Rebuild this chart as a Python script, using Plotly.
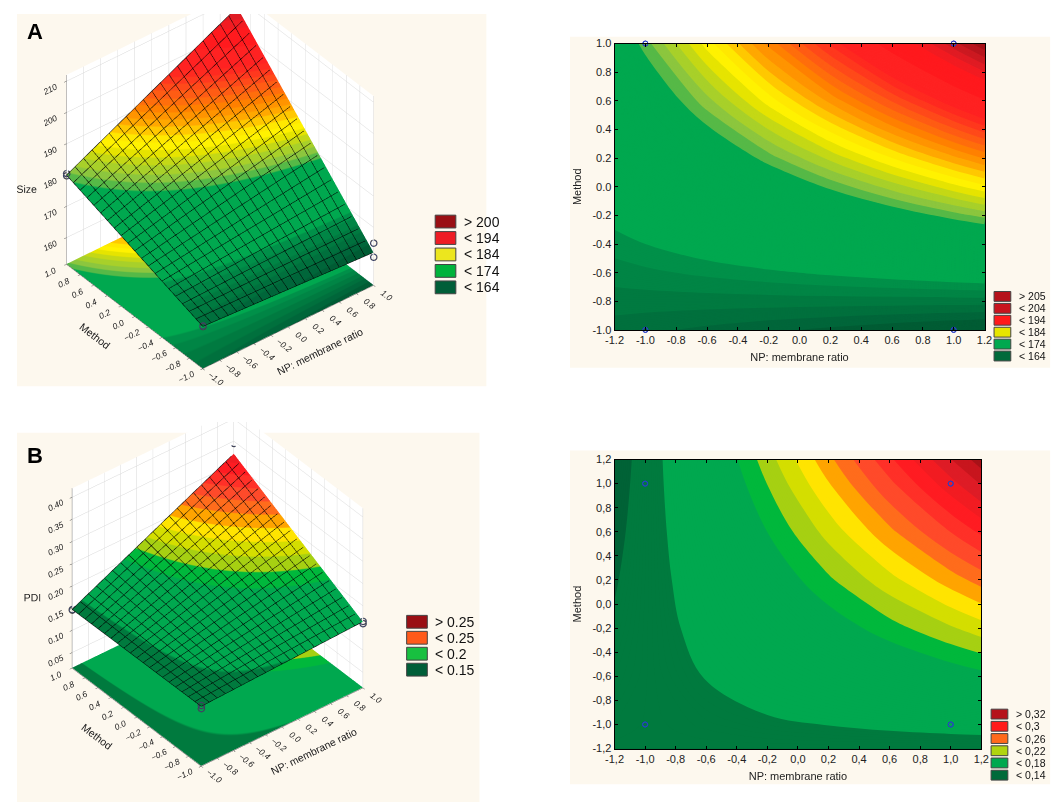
import plotly.graph_objects as go

FONT = "Liberation Sans, Arial, sans-serif"
W, H = 1059, 804

# fitted response grids
np_ratio = [-1.2, -1.0, -0.6, -0.2, 0.2, 0.6, 1.0, 1.2]
method_a = [-1.0, -0.6, -0.2, 0.2, 0.6, 1.0]
size_nm = [
    [165.3, 165.0, 164.4, 163.8, 163.2, 162.6, 162.0, 161.7],
    [167.7, 168.0, 168.6, 169.2, 169.8, 170.4, 171.0, 171.3],
    [170.1, 171.0, 172.8, 174.6, 176.4, 178.2, 180.0, 180.9],
    [172.5, 174.0, 177.0, 180.0, 183.0, 186.0, 189.0, 190.5],
    [174.9, 177.0, 181.2, 185.4, 189.6, 193.8, 198.0, 200.1],
    [177.3, 180.0, 185.4, 190.8, 196.2, 201.6, 207.0, 209.7],
]
method_b = [-1.2, -1.0, -0.6, -0.2, 0.2, 0.6, 1.0, 1.2]
pdi = [
    [0.1502, 0.1500, 0.1497, 0.1494, 0.1491, 0.1487, 0.1484, 0.1483],
    [0.1484, 0.1498, 0.1526, 0.1556, 0.1584, 0.1613, 0.1642, 0.1656],
    [0.1446, 0.1493, 0.1586, 0.1679, 0.1771, 0.1864, 0.1957, 0.2004],
    [0.1410, 0.1489, 0.1645, 0.1802, 0.1959, 0.2116, 0.2272, 0.2351],
    [0.1373, 0.1484, 0.1704, 0.1925, 0.2146, 0.2366, 0.2587, 0.2698],
    [0.1336, 0.1479, 0.1764, 0.2049, 0.2333, 0.2618, 0.2903, 0.3045],
    [0.1299, 0.1474, 0.1823, 0.2171, 0.2520, 0.2869, 0.3218, 0.3392],
    [0.1281, 0.1471, 0.1852, 0.2233, 0.2614, 0.2995, 0.3376, 0.3566],
]

# experimental design points
pt_np = [-1, -1, 1, 1, 1, 1, -1, -1]
pt_method = [1, 1, 1, 1, -1, -1, -1, -1]
pt_size = [180.5, 179.8, 211.0, 209.5, 165.0, 160.5, 165.2, 165.0]
pt_pdi = [0.147, 0.146, 0.345, 0.322, 0.165, 0.160, 0.152, 0.145]

# colour bands
size_edges = [163.5, 164.7, 165.9, 167.1, 168.3, 169.5, 179.4, 180.5, 181.6, 182.7,
              183.8, 184.9, 186.0, 187.1, 188.2, 189.3, 190.4, 191.5, 192.6, 193.7,
              194.8, 195.9, 197.0, 200.3, 203.6, 205.0, 206.2, 207.4, 208.6]
size_colors = ["#005c34", "#00663a", "#00703d", "#007a40", "#008545", "#009049", "#00a84f",
               "#56b947", "#8cc63e", "#a8d02a", "#c4d816", "#e6e400", "#fff200", "#ffe800",
               "#ffc800", "#ffa800", "#ff9400", "#ff8000", "#ff6e0c", "#ff5c14", "#ff4a1a",
               "#ff381e", "#ff2a20", "#ff2222", "#ff1a1e", "#f21c22", "#e01c24", "#cc1a22",
               "#b8161e", "#a41218"]
pdi_edges = [0.1388, 0.1580, 0.2044, 0.2164, 0.2288, 0.2408, 0.2528, 0.2652,
             0.2772, 0.2896, 0.3016, 0.3136, 0.3260, 0.3380, 0.3500]
pdi_colors = ["#006236", "#007a3e", "#00a84f", "#00b83c", "#a6d012", "#d4de00", "#ffe400",
              "#ffa400", "#ff6c1c", "#ff4a2a", "#ff3028", "#ff1c22", "#f21c22", "#de1c26",
              "#c8161e", "#a81218"]

# legend boxes
leg_a3d = ["> 200", "< 194", "< 184", "< 174", "< 164"]
leg_a3d_col = ["#9a0f14", "#ee1c24", "#ece61e", "#00b33c", "#005e38"]
leg_a2d = ["> 205", "< 204", "< 194", "< 184", "< 174", "< 164"]
leg_a2d_col = ["#b5121b", "#c8141e", "#ff1a1a", "#e6e600", "#00a84f", "#006a3a"]
leg_b3d = ["> 0.25", "< 0.25", "< 0.2", "< 0.15"]
leg_b3d_col = ["#9a0f14", "#ff5a1a", "#18c040", "#005e38"]
leg_b2d = ["> 0,32", "< 0,3", "< 0,26", "< 0,22", "< 0,18", "< 0,14"]
leg_b2d_col = ["#b5121b", "#ff1a1a", "#ff6a1c", "#b0d410", "#00a84f", "#006a3a"]

ticks_a = [-1.2, -1.0, -0.8, -0.6, -0.4, -0.2, 0.0, 0.2, 0.4, 0.6, 0.8, 1.0, 1.2]
ticks_a_text = ["-1.2", "-1.0", "-0.8", "-0.6", "-0.4", "-0.2", "0.0",
                "0.2", "0.4", "0.6", "0.8", "1.0", "1.2"]
ticks_b = ticks_a
ticks_b_text = ["-1,2", "-1,0", "-0,8", "-0,6", "-0,4", "-0,2", "0,0",
                "0,2", "0,4", "0,6", "0,8", "1,0", "1,2"]

A_LO, A_HI, A_STEP = 158.0, 212.0, 0.1
B_LO, B_HI, B_STEP = 0.1316, 0.3716, 0.0012


def stepped(edges, colors, lo, hi):
    pos = [0.0] + [(e - lo) / (hi - lo) for e in edges] + [1.0]
    scale = []
    for c, p0, p1 in zip(colors, pos, pos[1:]):
        scale += [[p0, c], [p1, c]]
    return scale


cs_a = stepped(size_edges, size_colors, A_LO, A_HI)
cs_b = stepped(pdi_edges, pdi_colors, B_LO, B_HI)

flat = dict(ambient=1.0, diffuse=0.0, specular=0.0, roughness=1.0, fresnel=0.0)
mesh = dict(show=True, start=-1, end=1, size=0.1, color="black", width=1, highlight=False)

fig = go.Figure()

# ---- A : 3D surface
sx = np_ratio[1:7]
sz_a = [row[1:7] for row in size_nm]
a_floor = 151.6
fig.add_trace(go.Surface(x=sx, y=method_a, z=[[a_floor] * len(r) for r in sz_a], surfacecolor=sz_a,
                         colorscale=cs_a, cmin=A_LO, cmax=A_HI, showscale=False, lighting=flat,
                         hoverinfo="skip", scene="scene"))
fig.add_trace(go.Surface(x=sx, y=method_a, z=sz_a, surfacecolor=sz_a, colorscale=cs_a,
                         cmin=A_LO, cmax=A_HI, showscale=False, lighting=flat,
                         contours=dict(x=mesh, y=mesh), hoverinfo="skip", scene="scene"))
fig.add_trace(go.Scatter3d(x=pt_np, y=pt_method, z=pt_size, mode="markers",
                           marker=dict(symbol="circle-open", size=4, color="#2a3fc8", line=dict(width=1.5)),
                           showlegend=False, scene="scene"))

# ---- B : 3D surface
sy_b = method_b[1:7]
sz_b = [row[1:7] for row in pdi[1:7]]
b_floor = 0.016
fig.add_trace(go.Surface(x=sx, y=sy_b, z=[[b_floor] * len(r) for r in sz_b], surfacecolor=sz_b,
                         colorscale=cs_b, cmin=B_LO, cmax=B_HI, showscale=False, lighting=flat,
                         hoverinfo="skip", scene="scene2"))
fig.add_trace(go.Surface(x=sx, y=sy_b, z=sz_b, surfacecolor=sz_b, colorscale=cs_b,
                         cmin=B_LO, cmax=B_HI, showscale=False, lighting=flat,
                         contours=dict(x=mesh, y=mesh), hoverinfo="skip", scene="scene2"))
fig.add_trace(go.Scatter3d(x=pt_np, y=pt_method, z=pt_pdi, mode="markers",
                           marker=dict(symbol="circle-open", size=4, color="#2a3fc8", line=dict(width=1.5)),
                           showlegend=False, scene="scene2"))

# ---- contour plots
fig.add_trace(go.Contour(x=np_ratio, y=method_a, z=size_nm, colorscale=cs_a, zmin=A_LO, zmax=A_HI,
                         autocontour=False,
                         contours=dict(start=A_LO, end=A_HI, size=A_STEP, coloring="fill", showlines=False),
                         line=dict(width=0, smoothing=1.0), showscale=False, hoverinfo="skip",
                         xaxis="x", yaxis="y"))
fig.add_trace(go.Scatter(x=pt_np, y=pt_method, mode="markers", showlegend=False,
                         marker=dict(symbol="circle-open", size=5, color="#2a3fc8"),
                         cliponaxis=False, xaxis="x", yaxis="y"))
fig.add_trace(go.Contour(x=np_ratio, y=method_b, z=pdi, colorscale=cs_b, zmin=B_LO, zmax=B_HI,
                         autocontour=False,
                         contours=dict(start=B_LO, end=B_HI, size=B_STEP, coloring="fill", showlines=False),
                         line=dict(width=0, smoothing=1.0), showscale=False, hoverinfo="skip",
                         xaxis="x2", yaxis="y2"))
fig.add_trace(go.Scatter(x=pt_np, y=pt_method, mode="markers", showlegend=False,
                         marker=dict(symbol="circle-open", size=5, color="#2a3fc8"),
                         cliponaxis=False, xaxis="x2", yaxis="y2"))


def px(x):
    return x / W


def py(y):
    return 1 - y / H


def ax3d(title, rng, dtick, fmt):
    return dict(title=dict(text=title, font=dict(size=10.5, family=FONT, color="#222")),
                range=rng, dtick=dtick, tickformat=fmt,
                tickfont=dict(size=10, family=FONT, color="#222", style="italic"),
                showgrid=True, gridcolor="#d8d8d8", gridwidth=1,
                showbackground=True, backgroundcolor="white",
                showline=True, linecolor="#555", zeroline=False, showspikes=False,
                ticks="outside", ticklen=3, tickcolor="#555")


def ax2d(title, rng, **kw):
    d = dict(title=dict(text=title, font=dict(size=11, family=FONT, color="#222"), standoff=8),
             range=rng, showline=True, linecolor="black", linewidth=1, mirror="allticks",
             ticks="inside", ticklen=3, tickcolor="black", showgrid=False, zeroline=False,
             tickfont=dict(size=11, family=FONT, color="#222"))
    d.update(kw)
    return d


def camera(cz):
    return dict(eye=dict(x=-1.07, y=-1.34, z=1.15), center=dict(x=0, y=0, z=cz),
                projection=dict(type="orthographic"))


shapes = []
annots = []
# panel backgrounds
for x0, y0, x1, y1 in [(0, 0, 477, 378), (562, 23, 1050, 359), (0, 425, 470, 800), (562, 443, 1050, 782)]:
    shapes.append(dict(type="rect", xref="paper", yref="paper", x0=px(x0), x1=px(x1), y0=py(y1), y1=py(y0),
                       fillcolor="#fdf8ee", line=dict(width=0), layer="below"))


def add_legend(labels, colors, x, y, step, sw, sh, fs):
    for i, (t, c) in enumerate(zip(labels, colors)):
        cy = y + i * step
        shapes.append(dict(type="rect", xref="paper", yref="paper", x0=px(x), x1=px(x + sw),
                           y0=py(cy + sh / 2), y1=py(cy - sh / 2), fillcolor=c,
                           line=dict(color="#444", width=1), layer="above"))
        annots.append(dict(xref="paper", yref="paper", x=px(x + sw + 6), y=py(cy), text=t,
                           showarrow=False, xanchor="left", yanchor="middle",
                           font=dict(size=fs, family=FONT, color="#111")))


add_legend(leg_a3d, leg_a3d_col, 425, 210.7, 16.7, 21, 13, 14)
add_legend(leg_b3d, leg_b3d_col, 396, 617, 16.2, 21, 13, 14)
add_legend(leg_a2d, leg_a2d_col, 993, 286.7, 12.1, 17, 10, 10.5)
add_legend(leg_b2d, leg_b2d_col, 990, 710.7, 12.4, 17, 10, 10.5)

annots.append(dict(xref="paper", yref="paper", x=px(8), y=py(18), text="<b>A</b>", showarrow=False,
                   xanchor="left", yanchor="middle", font=dict(size=22, family=FONT, color="black")))
annots.append(dict(xref="paper", yref="paper", x=px(8), y=py(448), text="<b>B</b>", showarrow=False,
                   xanchor="left", yanchor="middle", font=dict(size=22, family=FONT, color="black")))

fig.update_layout(
    width=W, height=H, margin=dict(l=0, r=0, t=0, b=0),
    paper_bgcolor="white", plot_bgcolor="white", showlegend=False,
    font=dict(family=FONT),
    scene=dict(domain=dict(x=[0.0, 0.39], y=[py(392), 1.0]),
               xaxis=ax3d("NP: membrane ratio", [-1, 1], 0.2, ".1f"),
               yaxis=ax3d("Method", [-1, 1], 0.2, ".1f"),
               zaxis=ax3d("Size", [151.5, 212], 10, "d"),
               aspectmode="manual", aspectratio=dict(x=1.132, y=1.132, z=1.24), camera=camera(-0.176),
               bgcolor="rgba(0,0,0,0)"),
    scene2=dict(domain=dict(x=[0.0, 0.385], y=[py(800), py(414)]),
                xaxis=ax3d("NP: membrane ratio", [-1, 1], 0.2, ".1f"),
                yaxis=ax3d("Method", [-1, 1], 0.2, ".1f"),
                zaxis=ax3d("PDI", [0.015, 0.42], 0.05, ".2f"),
                aspectmode="manual", aspectratio=dict(x=1.089, y=1.089, z=1.19), camera=camera(-0.158),
                bgcolor="rgba(0,0,0,0)"),
    xaxis=ax2d("NP: membrane ratio", [-1.2, 1.2], tickvals=ticks_a, ticktext=ticks_a_text,
               domain=[px(607.3), px(983.3)], anchor="y"),
    yaxis=ax2d("Method", [-1, 1], tickvals=ticks_a[1:-1], ticktext=ticks_a_text[1:-1],
               domain=[py(320.7), py(30)], anchor="x"),
    xaxis2=ax2d("NP: membrane ratio", [-1.2, 1.2], tickvals=ticks_b, ticktext=ticks_b_text,
                domain=[px(607.3), px(980)], anchor="y2"),
    yaxis2=ax2d("Method", [-1.2, 1.2], tickvals=ticks_b, ticktext=ticks_b_text,
                domain=[py(745.7), py(452.3)], anchor="x2"),
    shapes=shapes, annotations=annots,
)

fig.write_html("out.html")
